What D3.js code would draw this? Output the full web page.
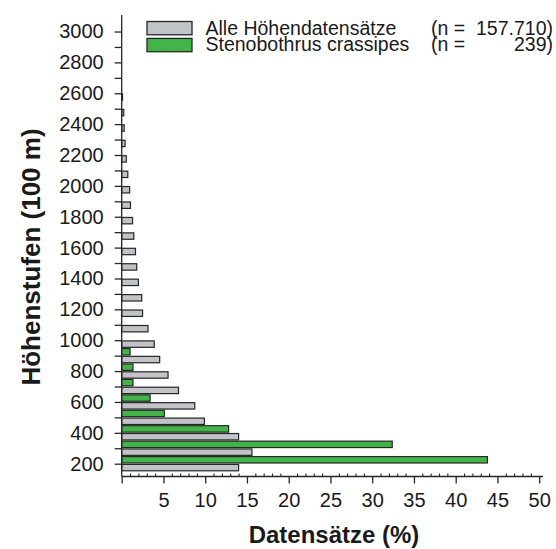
<!DOCTYPE html>
<html>
<head>
<meta charset="utf-8">
<script src="https://cdn.jsdelivr.net/npm/d3@7"></script>
<style>
  html, body { margin: 0; padding: 0; background: #ffffff; }
  svg { display: block; }
  text { font-family: "Liberation Sans", Arial, sans-serif; fill: #1a1a1a; }
</style>
</head>
<body>
<svg id="chart" width="556" height="549"></svg>
<script>
// ---- data ----
const categories = [200, 300, 400, 500, 600, 700, 800, 900, 1000, 1100, 1200, 1300, 1400, 1500,
  1600, 1700, 1800, 1900, 2000, 2100, 2200, 2300, 2400, 2500, 2600, 2700, 2800, 2900, 3000];
const allValues = [14.0, 15.6, 14.0, 9.9, 8.75, 6.8, 5.55, 4.55, 3.9, 3.15, 2.5, 2.4, 2.0, 1.8,
  1.65, 1.45, 1.3, 1.05, 0.95, 0.73, 0.55, 0.4, 0.3, 0.25, 0.1, 0, 0, 0, 0];
const speciesValues = [43.8, 32.4, 12.8, 5.1, 3.4, 1.35, 1.35, 1.0, 0, 0, 0, 0, 0, 0,
  0, 0, 0, 0, 0, 0, 0, 0, 0, 0, 0, 0, 0, 0, 0];
const xTickLabels = [5, 10, 15, 20, 25, 30, 35, 40, 45, 50];
const yTickLabels = [200, 400, 600, 800, 1000, 1200, 1400, 1600, 1800, 2000, 2200, 2400, 2600, 2800, 3000];
const seriesNames = ["Alle Höhendatensätze", "Stenobothrus crassipes"];
const seriesN = ["157.710", "239"];

const greyFill = "#c2c2c9";
const greenFill = "#42b549";
const edge = "#262626";

const svg = d3.select("#chart");

const x = d3.scaleLinear().domain([0, 50]).range([121.7, 539.2]);
const y = d3.scaleLinear().domain([117, 3107]).range([476.5, 15]);

const barH = 6.4;

// bars
const rows = categories.map((c, i) => ({ c, all: allValues[i], sp: speciesValues[i] }));
const g = svg.append("g");
g.selectAll("rect.all").data(rows.filter(d => d.all > 0)).join("rect")
  .attr("class", "all")
  .attr("x", x(0))
  .attr("y", d => y(d.c) + 0.7)
  .attr("width", d => x(d.all) - x(0))
  .attr("height", barH)
  .attr("fill", greyFill).attr("stroke", edge).attr("stroke-width", 1.2);
g.selectAll("rect.sp").data(rows.filter(d => d.sp > 0)).join("rect")
  .attr("class", "sp")
  .attr("x", x(0))
  .attr("y", d => y(d.c) - 0.7 - barH)
  .attr("width", d => x(d.sp) - x(0))
  .attr("height", barH)
  .attr("fill", greenFill).attr("stroke", edge).attr("stroke-width", 1.2);

// y axis
const yAxis = d3.axisLeft(y)
  .tickValues(categories)
  .tickSize(7)
  .tickPadding(11)
  .tickFormat(d => yTickLabels.includes(d) ? String(d) : "");
const yg = svg.append("g").attr("transform", `translate(${x(0)},0)`).call(yAxis);
yg.select(".domain").remove();
yg.append("line").attr("x1", 0).attr("x2", 0).attr("y1", 15).attr("y2", 476.5)
  .attr("stroke", edge).attr("stroke-width", 1.3);
yg.selectAll(".tick line").attr("stroke", edge).attr("stroke-width", 1.3);
yg.selectAll(".tick text").style("font-size", "20px").attr("fill", "#1a1a1a")
  .style("font-family", "'Liberation Sans', Arial, sans-serif");

// x axis: minor ticks (inside)
const minor = d3.range(1, 50).filter(v => v % 5 !== 0);
const xMinor = d3.axisBottom(x).tickValues(minor).tickSize(-3).tickFormat("");
const xmg = svg.append("g").attr("transform", `translate(0,476.5)`).call(xMinor);
xmg.select(".domain").remove();
xmg.selectAll(".tick line").attr("stroke", edge).attr("stroke-width", 1.1);

// x axis: major ticks (outside) with labels
const xAxis = d3.axisBottom(x).tickValues([0].concat(xTickLabels)).tickSize(7).tickPadding(9)
  .tickFormat(d => d === 0 ? "" : String(d));
const xg = svg.append("g").attr("transform", `translate(0,476.5)`).call(xAxis);
xg.select(".domain").remove();
xg.append("line").attr("x1", x(0)).attr("x2", 543).attr("y1", 0).attr("y2", 0)
  .attr("stroke", edge).attr("stroke-width", 1.3);
xg.selectAll(".tick line").attr("stroke", edge).attr("stroke-width", 1.3);
xg.selectAll(".tick text").style("font-size", "20px").attr("fill", "#1a1a1a")
  .style("font-family", "'Liberation Sans', Arial, sans-serif");

// axis titles
svg.append("text")
  .attr("x", 334).attr("y", 543)
  .attr("text-anchor", "middle")
  .style("font-size", "24px").style("font-weight", "bold")
  .text("Datensätze (%)");
svg.append("text")
  .attr("transform", "translate(40,257) rotate(-90)")
  .attr("text-anchor", "middle")
  .style("font-size", "26px").style("font-weight", "bold")
  .text("Höhenstufen (100 m)");

// legend
const legend = svg.append("g");
const fills = [greyFill, greenFill];
seriesNames.forEach((name, i) => {
  const yy = 21.5 + i * 16.9;
  legend.append("rect").attr("x", 147).attr("y", yy).attr("width", 45).attr("height", 13.3)
    .attr("fill", fills[i]).attr("stroke", edge).attr("stroke-width", 1.3);
  legend.append("text").attr("x", 205.5).attr("y", yy + 13)
    .style("font-size", "19.5px").text(name);
  legend.append("text").attr("x", 431).attr("y", yy + 13)
    .style("font-size", "19.5px").text("(n =");
  legend.append("text").attr("x", 553).attr("y", yy + 13)
    .attr("text-anchor", "end")
    .style("font-size", "19.5px").text(seriesN[i] + ")");
});
</script>
</body>
</html>
